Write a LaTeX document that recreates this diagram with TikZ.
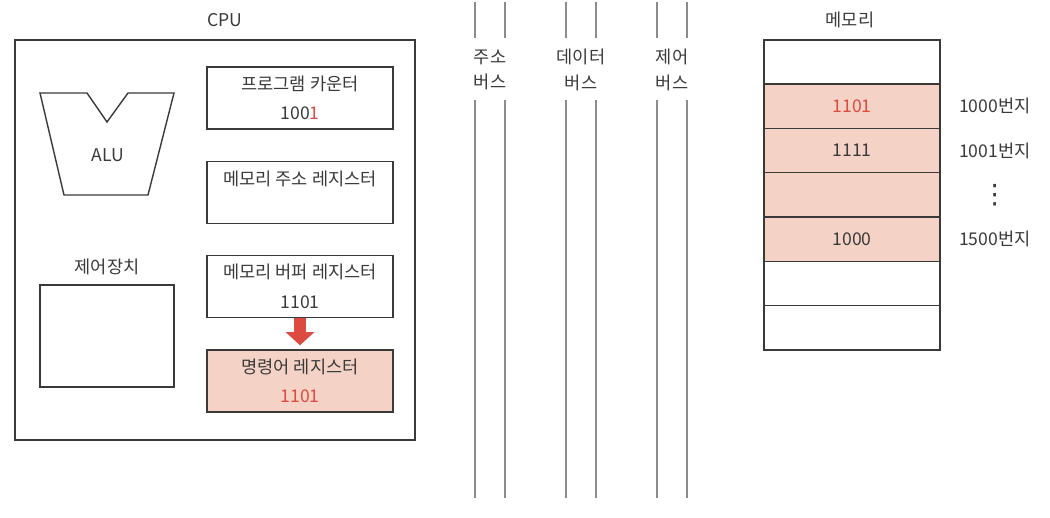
\documentclass[tikz,border=0pt]{standalone}
\usepackage{fontspec}
\setmainfont{Noto Sans CJK KR}
\newfontfamily\symfont{DejaVu Sans}
\usetikzlibrary{arrows.meta,positioning}
\definecolor{lineg}{HTML}{3A3A3A}
\definecolor{busg}{HTML}{8C8C8C}
\definecolor{cellfill}{HTML}{F4D3C6}
\definecolor{hlred}{HTML}{DC4A40}
\tikzset{
  reg/.style  ={rectangle, draw=lineg, line width=1pt, minimum width=4.65cm,
                minimum height=1.55cm, align=center, inner sep=0pt, text=lineg,
                font=\fontsize{12.5}{21}\selectfont},
  hreg/.style ={reg, fill=cellfill},
  cell/.style ={rectangle, draw=lineg, line width=1pt, minimum width=4.4cm,
                minimum height=1.107cm, inner sep=0pt, outer sep=0pt, text=lineg,
                font=\fontsize{12.5}{14}\selectfont},
  hcell/.style={cell, fill=cellfill},
  lbl/.style  ={align=center, text=lineg, font=\fontsize{12.5}{18}\selectfont},
  bus/.style  ={draw=busg, line width=1.2pt},
  ar/.style   ={-{Triangle[length=3.3mm, width=7mm]}, line width=3.2mm,
                draw=hlred, shorten >=1mm}
}
\begin{document}
\begin{tikzpicture}[x=0.025cm, y=-0.025cm]
\useasboundingbox (0,0) rectangle (1050,518);
% CPU
\node[rectangle, draw=lineg, line width=1pt, minimum width=10cm, minimum height=10cm]
  (cpu) at (215,240) {};
\node[lbl] (cpulbl) at (225,20) {CPU};
\draw[lineg, line width=1pt] (40,93) -- (87,93) -- (107,122) -- (128,93) -- (174,93)
  -- (148,195) -- (64,195) -- cycle;
\node[lbl] (alu) at (108,155) {ALU};
\node[reg] (ctrl) at (107,336) [minimum width=3.35cm, minimum height=2.55cm] {};
\node[lbl, above=0.12cm of ctrl] (ctrllbl) {제어장치};
\node[reg]  (pc)  at (300,98)    {프로그램 카운터\\100\textcolor{hlred}{1}};
\node[reg]  (mar) at (300,192.5) {메모리 주소 레지스터\\\mbox{}};
\node[reg]  (mbr) at (300,286.5) {메모리 버퍼 레지스터\\1101};
\node[hreg] (ir)  at (300,381)   {명령어 레지스터\\\textcolor{hlred}{1101}};
\draw[ar] (mbr) -- (ir);
% buses
\foreach \x in {475,505,566,596,657,687} {
  \draw[bus] (\x,2) -- (\x,38);
  \draw[bus] (\x,100) -- (\x,498);
}
\node[lbl] (abus) at (490,70) {주소\\버스};
\node[lbl] (dbus) at (581,70) {데이터\\버스};
\node[lbl] (cbus) at (672,70) {제어\\버스};
% memory
\node[lbl] (memlbl) at (850,20) {메모리};
\node[cell]  (m1) at (852,62) {};
\node[hcell, below=0pt of m1] (m2) {\textcolor{hlred}{1101}};
\node[hcell, below=0pt of m2] (m3) {1111};
\node[hcell, below=0pt of m3] (m4) {};
\node[hcell, below=0pt of m4] (m5) {1000};
\node[cell,  below=0pt of m5] (m6) {};
\node[cell,  below=0pt of m6] (m7) {};
\node[lbl, right=0.35cm of m2] (a1000) {1000번지};
\node[lbl, right=0.35cm of m3] (a1001) {1001번지};
\node[text=lineg, font=\symfont\fontsize{19}{19}\selectfont] (adots) at (a1001 |- m4) {⋮};
\node[lbl, right=0.35cm of m5] (a1500) {1500번지};
\end{tikzpicture}
\end{document}
